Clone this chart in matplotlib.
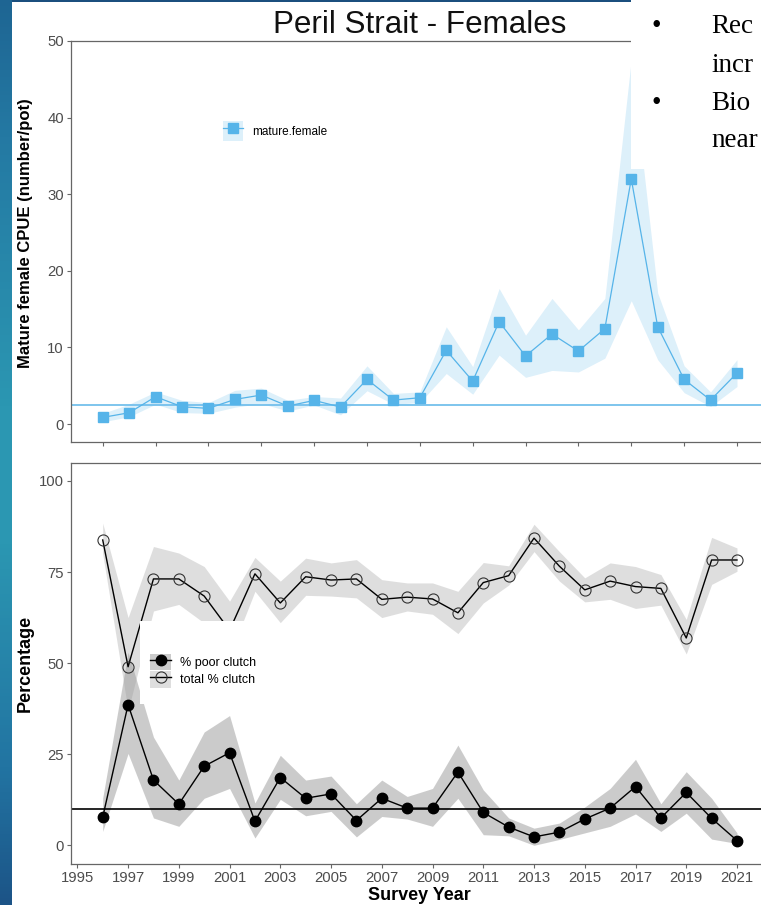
import matplotlib.pyplot as plt
import numpy as np
from matplotlib.patches import Patch, Rectangle
from matplotlib.lines import Line2D
from matplotlib.colors import LinearSegmentedColormap

plt.rcParams['font.family'] = ['Liberation Sans', 'DejaVu Sans']

# mature female CPUE (top panel)
years_cpue = list(range(1997, 2022))
cpue = [0.87, 1.48, 3.57, 2.26, 2.05, 3.22, 3.79, 2.35, 3.09, 2.22, 5.83, 3.13, 3.44,
        9.62, 5.61, 13.36, 8.88, 11.75, 9.53, 12.45, 32.0, 12.7, 5.83, 3.13, 6.66]
cpue_lo = [0.3, 0.95, 2.6, 1.5, 1.4, 2.2, 2.7, 1.7, 2.5, 1.2, 4.35, 2.6, 2.8,
           6.6, 3.9, 9.0, 6.1, 7.0, 6.8, 8.6, 16.1, 8.4, 4.1, 2.3, 4.9]
cpue_hi = [1.4, 2.6, 4.2, 3.1, 2.8, 4.4, 4.7, 3.1, 3.6, 3.4, 7.6, 4.0, 4.2,
           12.7, 7.5, 17.7, 11.6, 16.4, 12.3, 16.4, 47.6, 17.1, 7.6, 4.2, 8.4]
cpue_ref = 2.5

# clutch percentages (bottom panel)
years_clutch = list(range(1996, 2022))
poor = [7.7, 38.6, 17.9, 11.3, 21.7, 25.4, 6.6, 18.6, 12.9, 14.1, 6.8, 12.9, 10.2,
        10.2, 20.1, 9.0, 5.0, 2.3, 3.6, 7.2, 10.2, 16.1, 7.5, 14.5, 7.4, 1.3]
poor_lo = [3.8, 25.2, 7.5, 5.2, 12.9, 15.6, 2.0, 12.6, 8.1, 9.3, 2.3, 7.9, 7.2,
           5.2, 12.9, 2.9, 2.6, 0.0, 1.6, 3.4, 5.2, 8.6, 3.8, 8.8, 1.7, 0.5]
poor_hi = [13.0, 53.0, 29.7, 17.9, 31.1, 35.6, 11.6, 24.7, 17.9, 19.0, 11.4, 17.9, 13.4,
           15.6, 27.5, 15.2, 7.5, 4.7, 6.1, 10.5, 15.6, 23.6, 11.4, 20.2, 12.9, 3.4]
total = [83.8, 49.0, 73.1, 73.1, 68.4, 59.0, 74.5, 66.5, 73.7, 72.8, 73.1, 67.5, 68.1,
         67.6, 63.8, 72.1, 74.0, 84.3, 76.6, 70.1, 72.5, 71.0, 70.5, 56.9, 78.3, 78.3]
total_lo = [80.0, 37.0, 64.3, 66.1, 61.0, 52.0, 69.7, 61.1, 68.6, 68.4, 67.9, 62.5, 64.3,
            63.4, 58.1, 66.5, 71.4, 80.6, 72.5, 66.8, 67.5, 65.0, 65.9, 52.5, 71.6, 75.2]
total_hi = [88.4, 62.5, 82.0, 80.2, 76.5, 67.0, 79.0, 72.5, 78.8, 77.5, 78.4, 72.9, 72.0,
            72.0, 69.7, 77.6, 76.7, 88.1, 80.6, 73.4, 77.5, 76.5, 74.3, 62.0, 84.5, 81.6]
poor_ref = 10

x_ticks = list(range(1995, 2022, 2))
title = "Peril Strait - Females"
bullets = [("\u2022", "Rec"), ("", "incr"), ("\u2022", "Bio"), ("", "near")]

W, H = 761, 905
fig = plt.figure(figsize=(W / 100, H / 100), dpi=100)
fig.patch.set_facecolor('white')

blue = '#56B4E9'
tick_col = '#4d4d4d'
spine_col = '#666666'


def px(x0, y0, x1, y1):
    # figure-fraction rect from pixel box (top-left origin)
    return [x0 / W, 1 - y1 / H, (x1 - x0) / W, (y1 - y0) / H]


def style(ax):
    for s in ['top', 'left', 'bottom', 'right']:
        ax.spines[s].set_color(spine_col)
        ax.spines[s].set_linewidth(0.9)
    ax.tick_params(colors=spine_col, length=2.6, width=0.8, labelsize=10.7,
                   labelcolor=tick_col, pad=2.5)


# ---- top panel
ax1 = fig.add_axes(px(71, 41, 768.7, 441.7))
ax1.fill_between(years_cpue, cpue_lo, cpue_hi, color=blue, alpha=0.2, linewidth=0)
ax1.axhline(cpue_ref, color='#74c0ec', lw=1.3)
ax1.plot(years_cpue, cpue, color=blue, lw=0.9, marker='s', ms=7.5, mec=blue, mfc=blue)
ax1.set_yticks([0, 10, 20, 30, 40, 50])
ax1.set_xticks(x_ticks)
ax1.set_xticklabels([])
ax1.set_xlim(1995.8, 2022.2)
ax1.set_ylim(-2.3, 50)
style(ax1)
ax1.set_ylabel("Mature female CPUE (number/pot)", fontsize=12, fontweight='bold')
ax1.yaxis.set_label_coords(-0.055, 0.52)
h_top = (Patch(facecolor=blue, alpha=0.2, edgecolor='none'),
         Line2D([], [], color=blue, lw=0.9, marker='s', ms=7.5))
ax1.legend([h_top], ['mature.female'], loc='upper left',
           bbox_to_anchor=(222.7 / W, 1 - 121.5 / H), bbox_transform=fig.transFigure,
           frameon=False, fontsize=8.5, handlelength=1.75, handleheight=2.2,
           handletextpad=0.75, borderpad=0, borderaxespad=0)

# ---- bottom panel
ax2 = fig.add_axes(px(71, 462.7, 768.7, 863.5))
ax2.fill_between(years_clutch, total_lo, total_hi, color='#bebebe', alpha=0.5, linewidth=0)
ax2.fill_between(years_clutch, poor_lo, poor_hi, color='#999999', alpha=0.5, linewidth=0)
ax2.axhline(poor_ref, color='black', lw=1.2)
ax2.plot(years_clutch, total, color='black', lw=1.0, marker='o', ms=8,
         mfc='none', mec='#333333', mew=0.8)
ax2.plot(years_clutch, poor, color='black', lw=1.0, marker='o', ms=7.5,
         mfc='black', mec='black')
ax2.set_yticks([0, 25, 50, 75, 100])
ax2.set_xticks(x_ticks)
ax2.set_xlim(1994.75, 2022.25)
ax2.set_ylim(-5, 105)
style(ax2)
ax2.set_ylabel("Percentage", fontsize=13, fontweight='bold')
ax2.yaxis.set_label_coords(-0.054, 0.5)
ax2.set_xlabel("Survey Year", fontsize=13, fontweight='bold')
ax2.xaxis.set_label_coords(0.5, -0.058)

# white legend box
ax2.add_patch(Rectangle((140 / W, 1 - 704 / H), (262 - 140) / W, (704 - 621) / H,
                        transform=fig.transFigure, facecolor='white', edgecolor='none',
                        zorder=4.5, clip_on=False))
h_poor = (Patch(facecolor='#999999', alpha=0.5, edgecolor='none'),
          Line2D([], [], color='black', lw=1.0, marker='o', ms=7.5, mfc='black'))
h_tot = (Patch(facecolor='#bebebe', alpha=0.5, edgecolor='none'),
         Line2D([], [], color='black', lw=1.0, marker='o', ms=8, mfc='none',
                mec='#333333', mew=0.8))
ax2.legend([h_poor, h_tot], ['% poor clutch', 'total % clutch'], loc='upper left',
           bbox_to_anchor=(150 / W, 1 - 653.5 / H), bbox_transform=fig.transFigure,
           frameon=False, fontsize=9, handlelength=1.68, handleheight=1.715,
           handletextpad=0.72, labelspacing=0.03, borderpad=0, borderaxespad=0)

# ---- slide decorations
fig.text(420 / W, 1 - 33 / H, title, fontsize=22.6, ha='center', va='baseline',
         color='#111111')

fig.add_artist(Rectangle((631 / W, 1 - 169 / H), (W - 631) / W, 169 / H,
                         transform=fig.transFigure, facecolor='white',
                         edgecolor='none', zorder=10))
fig.add_artist(Rectangle((12 / W, 1 - 1.6 / H), (631 - 12) / W, 1.6 / H,
                         transform=fig.transFigure, facecolor='#1b4f7e',
                         edgecolor='none', zorder=11))
line_y = [33, 72, 110, 147]
for (b, t), yb in zip(bullets, line_y):
    if b:
        fig.text(656 / W, 1 - yb / H, b, fontsize=19.5, ha='center', va='baseline',
                 family='Liberation Serif', zorder=12)
    fig.text(711 / W, 1 - yb / H, t, fontsize=19.5, ha='left', va='baseline',
             family='Liberation Serif', zorder=12)

grad = LinearSegmentedColormap.from_list(
    'strip', [(0, '#1e6593'), (0.15, '#2479a3'), (0.45, '#2b97b2'),
              (0.6, '#2b97b2'), (0.85, '#2274a2'), (1, '#1c5487')])
sax = fig.add_axes([0, 0, 12 / W, 1], zorder=20)
sax.imshow(np.linspace(0, 1, 256).reshape(-1, 1), aspect='auto', cmap=grad)
sax.axis('off')

fig.savefig('out.png', dpi=100)
